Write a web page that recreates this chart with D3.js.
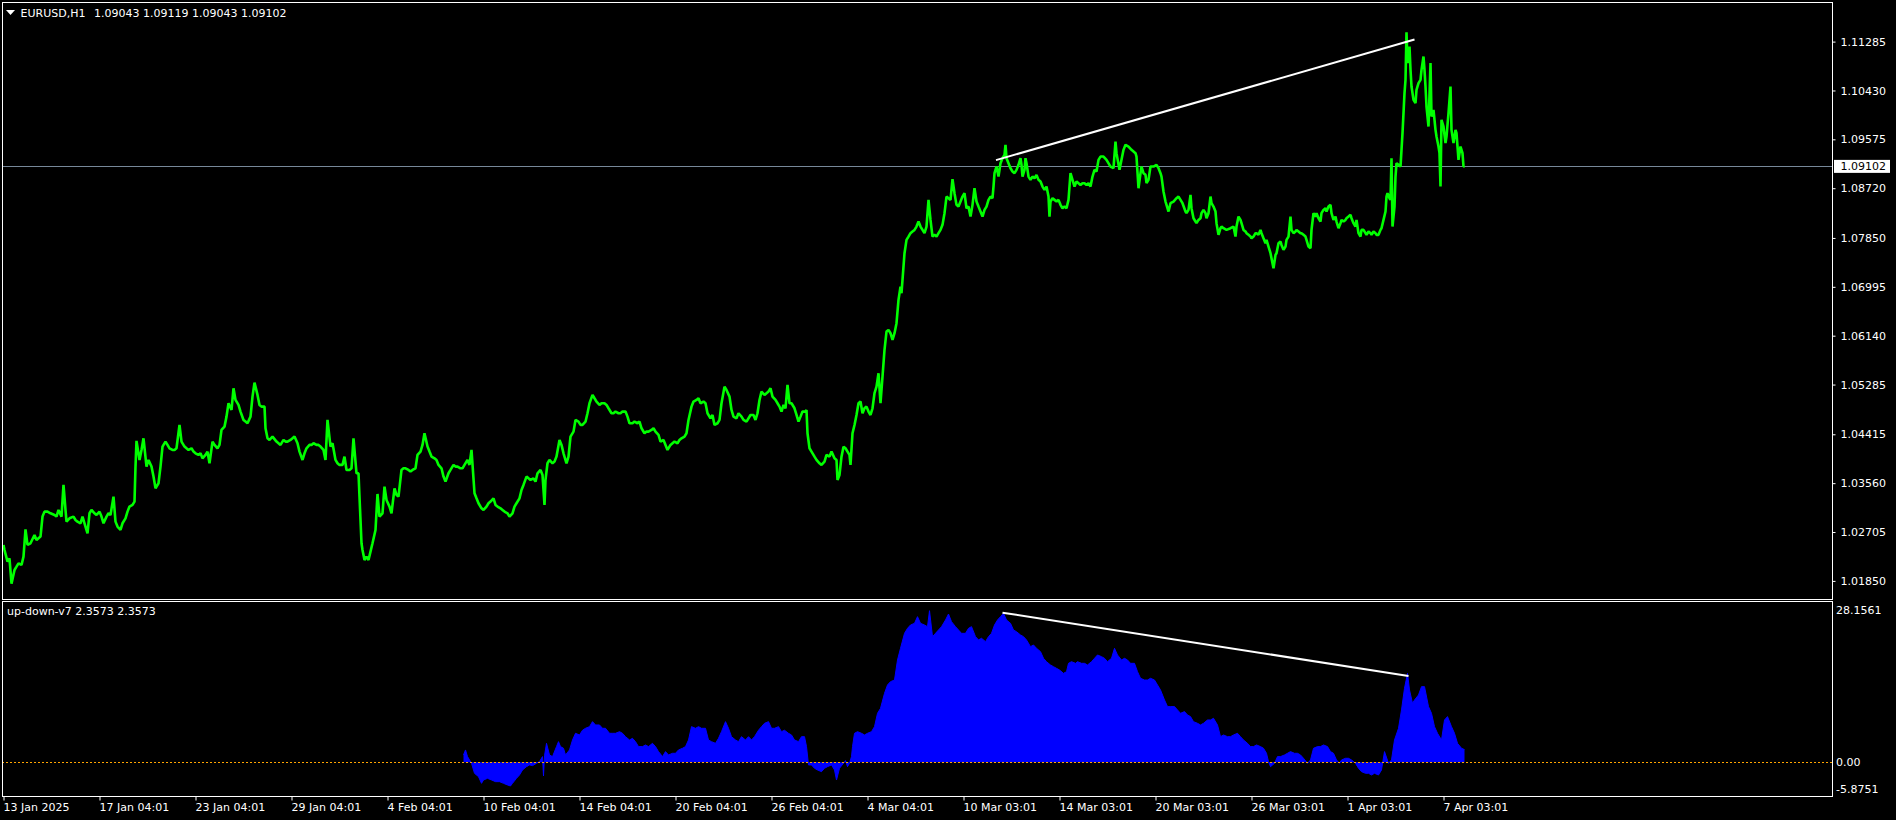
<!DOCTYPE html>
<html><head><meta charset="utf-8">
<script src="https://cdn.jsdelivr.net/npm/d3@7/dist/d3.min.js"></script>
<style>
html,body{margin:0;padding:0;background:#000;overflow:hidden;}
svg{display:block;}
text{font-family:"DejaVu Sans",sans-serif;font-size:11px;}
</style></head><body>
<svg id="chart" width="1896" height="820"></svg>
<script>
// ---------------- DATA ----------------
const symbolTitle = "EURUSD,H1";
const ohlcTitle = "1.09043 1.09119 1.09043 1.09102";
const indicatorTitle = "up-down-v7 2.3573 2.3573";
const lastPrice = 1.09102;

const priceTicks = [1.11285, 1.10430, 1.09575, 1.08720, 1.07850, 1.06995, 1.06140, 1.05285, 1.04415, 1.03560, 1.02705, 1.01850];
const indicatorTicks = [28.1561, 0, -5.8751];
const indicatorTickLabels = ["28.1561", "0.00", "-5.8751"];

const timeTickBars = [0, 96, 192, 288, 384, 480, 576, 672, 768, 864, 960, 1056, 1152, 1248, 1344, 1440];
const timeLabels = ["13 Jan 2025", "17 Jan 04:01", "23 Jan 04:01", "29 Jan 04:01", "4 Feb 04:01", "10 Feb 04:01", "14 Feb 04:01", "20 Feb 04:01", "26 Feb 04:01", "4 Mar 04:01", "10 Mar 03:01", "14 Mar 03:01", "20 Mar 03:01", "26 Mar 03:01", "1 Apr 03:01", "7 Apr 03:01"];

// [bar index, close]
const closeSeries = [
[0,1.02479],[1,1.02391],[4,1.02187],[6,1.02245],[8,1.01800],[11,1.02041],[13,1.02099],[15,1.02158],[18,1.02129],[20,1.02274],[22,1.02750],[24,1.02479],[27,1.02508],[31,1.02654],[33,1.02566],[37,1.02625],[39,1.02975],[41,1.03062],[44,1.03062],[47,1.03033],[51,1.03004],[53,1.02975],[55,1.03091],[58,1.02975],[60,1.03529],[62,1.03091],[63,1.02887],[66,1.02945],[70,1.02975],[72,1.02916],[74,1.02887],[77,1.02858],[79,1.02975],[81,1.02858],[84,1.02683],[86,1.03033],[88,1.03091],[91,1.03033],[93,1.03004],[96,1.03062],[98,1.02975],[100,1.02858],[103,1.02975],[105,1.03033],[107,1.03004],[110,1.03325],[112,1.02887],[114,1.02800],[117,1.02741],[119,1.02858],[122,1.02945],[124,1.03062],[126,1.03150],[129,1.03179],[131,1.03237],[132,1.03850],[133,1.04300],[136,1.03966],[138,1.04141],[140,1.04345],[143,1.03850],[145,1.03966],[148,1.03850],[150,1.03675],[152,1.03470],[155,1.03558],[157,1.03850],[159,1.04200],[162,1.04287],[164,1.04229],[166,1.04170],[169,1.04141],[171,1.04141],[173,1.04170],[176,1.04579],[178,1.04287],[181,1.04200],[183,1.04170],[185,1.04141],[188,1.04170],[190,1.04112],[192,1.04083],[195,1.04054],[197,1.04083],[199,1.03995],[202,1.04054],[204,1.04112],[206,1.03908],[209,1.04287],[211,1.04229],[214,1.04170],[216,1.04229],[218,1.04491],[221,1.04549],[223,1.04724],[225,1.04958],[228,1.04841],[230,1.05220],[232,1.05016],[235,1.04929],[237,1.04812],[240,1.04666],[242,1.04637],[244,1.04608],[247,1.04724],[249,1.05074],[251,1.05319],[254,1.05104],[256,1.04929],[258,1.04899],[261,1.04899],[262,1.04520],[264,1.04345],[266,1.04316],[269,1.04375],[273,1.04287],[275,1.04258],[277,1.04229],[280,1.04316],[282,1.04287],[284,1.04287],[287,1.04316],[289,1.04345],[291,1.04375],[294,1.04258],[296,1.04112],[299,1.03966],[301,1.04083],[303,1.04170],[306,1.04229],[308,1.04229],[310,1.04258],[313,1.04229],[315,1.04229],[317,1.04200],[320,1.04141],[322,1.03966],[324,1.04666],[327,1.04200],[329,1.04258],[332,1.03966],[334,1.03908],[336,1.03879],[339,1.03879],[341,1.04025],[343,1.03791],[346,1.03791],[348,1.03820],[350,1.04345],[353,1.03733],[355,1.03733],[358,1.02508],[359,1.02391],[361,1.02216],[363,1.02274],[365,1.02216],[367,1.02362],[369,1.02508],[372,1.02741],[374,1.03371],[376,1.02975],[379,1.03033],[381,1.03500],[383,1.03266],[386,1.03150],[388,1.03033],[391,1.03470],[393,1.03354],[395,1.03325],[398,1.03791],[400,1.03820],[402,1.03820],[405,1.03791],[407,1.03762],[409,1.03791],[412,1.03820],[414,1.04054],[417,1.04112],[419,1.04229],[421,1.04433],[424,1.04200],[426,1.04112],[428,1.04025],[431,1.03995],[433,1.03966],[435,1.03879],[438,1.03820],[440,1.03675],[442,1.03587],[445,1.03733],[447,1.03791],[450,1.03879],[452,1.03850],[454,1.03850],[457,1.03820],[459,1.03820],[461,1.03879],[464,1.03966],[466,1.03879],[468,1.04141],[471,1.03383],[473,1.03295],[475,1.03208],[478,1.03120],[480,1.03091],[483,1.03150],[485,1.03208],[487,1.03237],[490,1.03295],[492,1.03179],[494,1.03150],[497,1.03120],[499,1.03091],[501,1.03062],[504,1.03033],[506,1.02975],[509,1.03033],[511,1.03150],[513,1.03208],[516,1.03295],[518,1.03441],[520,1.03529],[523,1.03675],[525,1.03645],[527,1.03616],[530,1.03645],[532,1.03587],[534,1.03733],[537,1.03791],[539,1.03704],[541,1.03179],[542,1.03616],[544,1.03908],[546,1.03966],[549,1.03908],[551,1.03937],[553,1.04025],[556,1.04316],[558,1.04229],[560,1.04083],[563,1.03908],[565,1.04025],[567,1.04375],[570,1.04462],[572,1.04666],[575,1.04637],[577,1.04579],[579,1.04579],[582,1.04637],[584,1.04783],[586,1.04958],[589,1.05104],[591,1.05045],[593,1.04987],[596,1.04929],[598,1.04958],[601,1.04958],[603,1.04929],[605,1.04870],[608,1.04783],[610,1.04783],[612,1.04812],[615,1.04783],[617,1.04783],[619,1.04812],[622,1.04812],[624,1.04724],[626,1.04608],[629,1.04608],[631,1.04637],[634,1.04608],[636,1.04637],[638,1.04520],[641,1.04433],[643,1.04462],[645,1.04462],[648,1.04491],[650,1.04520],[652,1.04462],[655,1.04404],[657,1.04287],[660,1.04316],[662,1.04229],[664,1.04141],[667,1.04229],[669,1.04258],[671,1.04287],[674,1.04258],[676,1.04316],[678,1.04345],[681,1.04375],[683,1.04433],[685,1.04666],[688,1.04899],[690,1.04987],[693,1.05016],[695,1.05045],[697,1.04958],[700,1.04987],[702,1.04958],[704,1.04783],[707,1.04695],[709,1.04754],[711,1.04579],[714,1.04608],[716,1.04666],[718,1.04958],[721,1.05249],[723,1.05191],[726,1.05074],[728,1.04841],[730,1.04724],[733,1.04695],[735,1.04783],
[738,1.04724],[740,1.04666],[743,1.04637],[747,1.04753],[750,1.04753],[752,1.04666],[754,1.04783],[756,1.05016],[758,1.05162],[761,1.05104],[763,1.05133],[765,1.05162],[767,1.05220],[769,1.05074],[772,1.05016],[774,1.04958],[776,1.04899],[778,1.04812],[780,1.04928],[782,1.04870],[784,1.05279],[786,1.04958],[788,1.04958],[791,1.04870],[793,1.04753],[795,1.04637],[797,1.04724],[799,1.04812],[802,1.04812],[803,1.04841],[804,1.04433],[806,1.04170],[808,1.04112],[811,1.04024],[813,1.03966],[816,1.03908],[818,1.03879],[821,1.03937],[823,1.04054],[826,1.04024],[828,1.04112],[831,1.03995],[833,1.03966],[834,1.03616],[836,1.03704],[838,1.04024],[840,1.04199],[842,1.04170],[844,1.04112],[846,1.04054],[847,1.03879],[849,1.04433],[851,1.04578],[853,1.04753],[855,1.04958],[857,1.04987],[859,1.04783],[861,1.04870],[863,1.04899],[865,1.04812],[867,1.04753],[869,1.04870],[871,1.05133],[873,1.05249],[875,1.05483],[877,1.04958],[879,1.05424],[881,1.05891],[883,1.06212],[885,1.06241],[887,1.06183],[889,1.06066],[891,1.06183],[893,1.06358],[895,1.06766],[897,1.06999],[898,1.06883],[899,1.07116],[901,1.07583],[902,1.07699],[903,1.07816],[905,1.07874],[907,1.07933],[909,1.07962],[911,1.07991],[913,1.08049],[915,1.08137],[917,1.08049],[919,1.07991],[921,1.07933],[923,1.08049],[925,1.08516],[927,1.08166],[929,1.07874],[931,1.07904],[933,1.07874],[935,1.07933],[937,1.07991],[939,1.08079],[941,1.08283],[943,1.08574],[945,1.08545],[947,1.08516],[949,1.08878],[951,1.08633],[953,1.08429],[955,1.08399],[957,1.08487],[959,1.08574],[961,1.08633],[963,1.08370],[965,1.08399],[967,1.08224],[969,1.08429],[971,1.08720],[973,1.08487],[975,1.08399],[977,1.08312],[979,1.08224],[981,1.08341],[983,1.08399],[985,1.08516],[987,1.08574],[989,1.08545],[990,1.08749],[991,1.08983],[993,1.09099],[995,1.08924],[997,1.09158],[999,1.09245],[1001,1.09304],[1002,1.09478],[1003,1.09245],[1005,1.09158],[1007,1.09070],[1009,1.09012],[1011,1.08983],[1013,1.09041],[1015,1.09129],[1017,1.09245],[1018,1.09129],[1019,1.08924],[1021,1.09041],[1022,1.09245],[1023,1.09158],[1025,1.08924],[1027,1.08866],[1029,1.08924],[1031,1.08895],[1033,1.08953],[1035,1.08866],[1037,1.08837],[1039,1.08749],[1041,1.08691],[1043,1.08749],[1045,1.08574],[1046,1.08224],[1047,1.08487],[1049,1.08545],[1051,1.08516],[1053,1.08487],[1055,1.08516],[1057,1.08429],[1059,1.08370],[1061,1.08399],[1063,1.08370],[1065,1.08516],[1067,1.08983],[1069,1.08866],[1071,1.08749],[1073,1.08837],[1075,1.08808],[1077,1.08778],[1079,1.08808],[1081,1.08808],[1083,1.08778],[1085,1.08808],[1087,1.08749],[1089,1.08924],[1091,1.09041],[1093,1.09012],[1095,1.09216],[1097,1.09274],
[1100,1.09274],[1103,1.09216],[1107,1.09099],[1110,1.09070],[1112,1.09537],[1113,1.09333],[1116,1.09041],[1118,1.09216],[1120,1.09391],[1122,1.09479],[1125,1.09449],[1128,1.09391],[1132,1.09333],[1133,1.09274],[1135,1.08720],[1137,1.08983],[1138,1.09099],[1140,1.08983],[1142,1.08954],[1143,1.08808],[1145,1.08866],[1147,1.09099],[1150,1.09099],[1153,1.09129],[1155,1.09070],[1157,1.08983],[1158,1.08924],[1160,1.08662],[1162,1.08487],[1163,1.08429],[1165,1.08312],[1167,1.08458],[1170,1.08487],[1173,1.08545],[1175,1.08574],[1177,1.08516],[1179,1.08458],[1182,1.08312],[1183,1.08283],[1185,1.08341],[1187,1.08604],[1188,1.08370],[1190,1.08195],[1192,1.08137],[1193,1.08108],[1195,1.08166],[1197,1.08195],[1198,1.08283],[1200,1.08341],[1202,1.08283],[1203,1.08195],[1205,1.08283],[1207,1.08574],[1208,1.08458],[1210,1.08399],[1212,1.08312],[1213,1.08108],[1215,1.07904],[1217,1.08020],[1218,1.08049],[1220,1.08020],[1223,1.07991],[1227,1.08020],[1230,1.08049],[1232,1.07874],[1233,1.08049],[1235,1.08224],[1237,1.08166],[1238,1.08108],[1240,1.07991],[1242,1.07962],[1243,1.07933],[1245,1.07904],[1247,1.07874],[1248,1.07845],[1250,1.07874],[1252,1.07933],[1253,1.07933],[1255,1.07904],[1257,1.07991],[1258,1.07933],[1260,1.07845],[1262,1.07758],[1263,1.07816],[1265,1.07699],[1267,1.07583],[1268,1.07495],[1270,1.07320],[1272,1.07554],[1273,1.07583],[1275,1.07758],[1277,1.07787],[1278,1.07728],[1280,1.07641],[1282,1.07699],[1283,1.07816],[1285,1.07874],[1287,1.08224],[1288,1.07991],[1290,1.07933],[1292,1.07962],[1293,1.07991],[1295,1.07962],[1297,1.07933],[1298,1.07933],[1300,1.07904],[1302,1.07874],[1303,1.07816],[1305,1.07699],[1307,1.07670],[1308,1.07991],[1310,1.08283],[1312,1.08224],[1313,1.08283],[1315,1.08195],[1317,1.08137],[1318,1.08283],[1320,1.08341],[1322,1.08370],[1323,1.08312],[1325,1.08399],[1327,1.08429],[1328,1.08283],[1330,1.08166],[1332,1.08224],[1333,1.08137],[1335,1.08020],[1337,1.08108],[1338,1.08166],[1340,1.08137],[1342,1.08166],[1343,1.08195],[1345,1.08224],[1347,1.08254],[1348,1.08195],[1350,1.08108],[1352,1.08049],[1353,1.08166],[1355,1.07933],[1357,1.07874],[1358,1.07991],[1360,1.07991],[1362,1.07933],[1363,1.07904],[1365,1.07962],[1367,1.07933],[1368,1.07904],[1370,1.07962],[1372,1.07933],[1373,1.07904],[1375,1.07904],[1377,1.07991],[1378,1.08020],[1380,1.08166],[1382,1.08312],[1383,1.08574],[1384,1.08633],[1386,1.08545],[1387,1.08516],[1388,1.09245],[1389,1.08049],[1391,1.08399],[1392,1.08924],[1393,1.09158],[1395,1.09129],[1397,1.09099],[1398,1.09391],[1399,1.09683],[1400,1.10033],[1401,1.10383],[1402,1.10616],[1403,1.11450],[1404,1.10908],[1405,1.11083],[1406,1.11199],[1407,1.10791],[1408,1.10499],[1410,1.10266],[1412,1.10208],[1413,1.10441],[1415,1.10558],[1417,1.10616],[1418,1.10791],[1420,1.11024],[1421,1.10791],[1422,1.10499],[1423,1.10149],[1425,1.09799],[1427,1.10908],[1428,1.09974],[1430,1.10091],[1432,1.09741],[1433,1.09624],[1435,1.09449],[1436,1.09333],[1437,1.08749],[1438,1.09916],[1440,1.09799],[1442,1.09508],[1443,1.09624],[1445,1.10033],[1447,1.10499],[1448,1.09741],[1450,1.09508],[1452,1.09741],[1453,1.09683],[1455,1.09216],[1456,1.09333],[1457,1.09449],[1459,1.09333],[1460,1.09099],[1461,1.09102]
];

// [bar index, up-down-v7 value]
const upDownSeries = [
[460,1.36],[462,2.29],[464,1.05],[468,-0.19],[471,-2.05],[475,-2.67],[478,-3.91],[480,-3.29],[484,-2.98],[488,-3.29],[492,-3.60],[496,-3.60],[500,-3.91],[504,-4.22],[507,-4.40],[509,-3.91],[513,-2.98],[516,-2.36],[519,-1.43],[523,-0.81],[526,-0.50],[529,-0.62],[533,-0.19],[536,0.12],[539,1.05],[540,-2.54],[541,1.20],[543,3.52],[546,1.36],[549,1.05],[553,2.91],[555,3.83],[557,2.91],[560,2.60],[562,1.36],[566,2.29],[569,4.14],[572,5.38],[576,5.07],[579,5.95],[582,6.31],[586,6.62],[589,7.55],[592,6.93],[596,6.93],[599,6.31],[602,6.31],[606,5.38],[609,5.38],[612,5.38],[616,5.69],[619,5.38],[622,4.76],[626,4.14],[629,4.45],[632,3.83],[635,2.91],[639,2.91],[642,3.22],[645,2.91],[649,3.52],[652,2.91],[655,1.98],[659,1.05],[662,1.98],[665,1.36],[669,1.67],[672,1.67],[675,2.29],[679,2.60],[682,2.91],[685,4.14],[688,6.62],[692,6.31],[695,6.62],[698,6.31],[702,6.31],[705,4.14],[708,3.83],[712,3.52],[715,4.45],[718,5.69],[722,7.55],[725,6.31],[728,4.76],[732,4.14],[735,3.83],[738,4.76],[742,4.14],[745,4.76],[748,4.14],[751,4.76],[755,5.95],[758,6.62],[761,7.24],[765,7.55],[768,6.31],[771,6.31],[775,6.62],[778,5.69],[781,5.95],[785,5.38],[788,5.07],[791,4.14],[795,3.83],[798,4.76],[801,4.76],[803,2.91],[805,-0.50],[808,-0.50],[811,-1.12],[814,-1.43],[818,-1.74],[821,-1.12],[824,-0.81],[828,-0.50],[831,-1.43],[833,-3.29],[836,-1.12],[840,-0.19],[842,0.31],[844,-0.81],[846,-0.19],[848,1.05],[849,2.91],[851,5.38],[854,5.69],[858,5.38],[861,5.07],[864,5.38],[868,5.69],[871,6.62],[874,9.09],[877,10.02],[881,12.81],[884,14.36],[887,14.98],[891,15.28],[894,19.00],[897,21.17],[901,23.95],[904,24.88],[907,25.50],[911,25.81],[914,27.05],[917,25.81],[921,25.50],[924,25.19],[926,28.1561],[929,23.34],[932,23.95],[935,24.57],[938,25.19],[942,26.43],[945,27.54],[948,26.12],[952,25.19],[955,24.57],[958,23.95],[962,23.95],[965,24.88],[968,25.19],[972,23.34],[975,22.72],[978,23.03],[982,22.41],[985,23.34],[988,23.95],[991,25.50],[994,26.43],[997,27.05],[1000,27.67],[1003,26.43],[1007,25.81],[1010,24.57],[1013,24.26],[1017,23.65],[1020,23.34],[1023,22.72],[1027,21.48],[1030,21.79],[1033,21.17],[1037,20.55],[1040,19.31],[1043,18.69],[1047,18.07],[1050,17.76],[1053,17.45],[1056,17.14],[1060,16.52],[1063,16.83],[1065,18.38],[1068,18.69],[1072,18.38],[1074,18.69],[1078,18.38],[1081,18.38],[1084,18.07],[1088,18.69],[1091,19.31],[1094,19.93],[1098,19.62],[1101,19.31],[1104,18.69],[1108,19.31],[1111,21.17],[1114,19.93],[1118,19.00],[1121,19.31],[1124,19.00],[1127,18.38],[1131,18.38],[1134,16.83],[1137,15.60],[1141,15.28],[1144,15.28],[1147,15.60],[1151,15.28],[1154,14.36],[1157,13.43],[1161,11.57],[1164,10.34],[1167,10.34],[1171,10.34],[1174,9.72],[1177,9.09],[1181,9.41],[1184,8.79],[1187,8.48],[1190,7.55],[1194,7.24],[1197,6.93],[1200,7.24],[1204,7.86],[1207,7.86],[1210,8.17],[1214,6.93],[1217,4.76],[1220,5.07],[1224,4.76],[1227,4.76],[1230,5.07],[1234,5.38],[1237,4.76],[1240,4.14],[1244,3.52],[1247,2.91],[1250,2.91],[1253,3.22],[1257,2.91],[1260,2.60],[1263,1.67],[1265,0.12],[1267,-0.81],[1271,-0.19],[1274,1.05],[1277,1.05],[1281,1.36],[1284,1.67],[1287,1.98],[1291,1.67],[1294,1.67],[1297,1.36],[1300,0.74],[1304,-0.19],[1307,0.43],[1310,2.60],[1314,2.91],[1317,2.91],[1320,3.22],[1324,2.91],[1327,1.98],[1330,1.67],[1333,0.43],[1336,-0.19],[1338,0.43],[1342,0.74],[1345,0.74],[1348,0.43],[1352,-0.19],[1355,-1.12],[1358,-1.74],[1362,-2.05],[1365,-2.05],[1368,-2.36],[1371,-2.05],[1375,-2.36],[1378,-1.43],[1381,1.98],[1385,-0.19],[1388,0.43],[1391,4.14],[1395,6.31],[1398,9.72],[1401,13.74],[1404,16.52],[1406,13.43],[1409,10.96],[1411,11.57],[1415,12.50],[1418,14.05],[1421,14.05],[1425,10.34],[1428,9.09],[1431,6.62],[1434,5.38],[1438,4.14],[1441,7.86],[1444,8.48],[1448,6.62],[1451,5.38],[1454,3.52],[1458,2.60],[1461,2.3573]
];

// trend lines [bar, value]
const priceTrend = [[992.5, 1.09211], [1411, 1.11321]];
const indicatorTrend = [[999, 27.79], [1405, 16.03]];

// ---------------- LAYOUT ----------------
const svg = d3.select("#chart");
const W = 1896, H = 820;
const L = 2, R = 1832;
const mainTop = 2, mainBottom = 599;
const indTop = 601, indBottom = 796;

svg.append("rect").attr("width", W).attr("height", H).attr("fill", "#000");

const x = d3.scaleLinear().domain([0, 1828]).range([3.5, 1831.5]);
const yP = d3.scaleLinear().domain([1.01850, 1.11285]).range([580.9, 41.6]);
const yI = d3.scaleLinear().domain([-5.8751, 28.1561]).range([793.9, 610.7]);

const defs = svg.append("defs");
defs.append("clipPath").attr("id", "clipMain").append("rect")
  .attr("x", L + 1).attr("y", mainTop + 1).attr("width", R - L - 1).attr("height", mainBottom - mainTop - 1);
defs.append("clipPath").attr("id", "clipInd").append("rect")
  .attr("x", L + 1).attr("y", indTop + 1).attr("width", R - L - 1).attr("height", indBottom - indTop - 1);

// ---- main panel ----
const gMain = svg.append("g").attr("clip-path", "url(#clipMain)");
const bidY = Math.round(yP(lastPrice)) + 0.5;
gMain.append("line").attr("x1", L).attr("x2", R).attr("y1", bidY).attr("y2", bidY)
  .attr("stroke", "#778899").attr("stroke-width", 1);

const priceLine = d3.line().x(d => x(d[0])).y(d => yP(d[1]));
gMain.append("path").datum(closeSeries).attr("d", priceLine)
  .attr("fill", "none").attr("stroke", "#00FF00").attr("stroke-width", 2.6).attr("stroke-linejoin", "bevel");

gMain.append("path").datum(priceTrend).attr("d", priceLine)
  .attr("fill", "none").attr("stroke", "#FFFFFF").attr("stroke-width", 2);

// ---- indicator panel ----
const gInd = svg.append("g").attr("clip-path", "url(#clipInd)");
const area = d3.area().x(d => x(d[0])).y0(yI(0)).y1(d => yI(d[1]));
gInd.append("path").datum(upDownSeries).attr("d", area).attr("fill", "#0000FF");
gInd.append("path").datum(upDownSeries).attr("d", d3.line().x(d => x(d[0])).y(d => yI(d[1])))
  .attr("fill", "none").attr("stroke", "#0000FF").attr("stroke-width", 1);

const zeroY = Math.round(yI(0)) + 0.5;
gInd.append("line").attr("x1", L).attr("x2", R).attr("y1", zeroY).attr("y2", zeroY)
  .attr("stroke", "#FFA500").attr("stroke-width", 1).attr("stroke-dasharray", "2,2");

const indLine = d3.line().x(d => x(d[0])).y(d => yI(d[1]));
gInd.append("path").datum(indicatorTrend).attr("d", indLine)
  .attr("fill", "none").attr("stroke", "#FFFFFF").attr("stroke-width", 2);

// ---- frames ----
svg.append("rect").attr("x", L + 0.5).attr("y", mainTop + 0.5).attr("width", R - L).attr("height", mainBottom - mainTop)
  .attr("fill", "none").attr("stroke", "#FFFFFF").attr("shape-rendering", "crispEdges");
svg.append("rect").attr("x", L + 0.5).attr("y", indTop + 0.5).attr("width", R - L).attr("height", indBottom - indTop)
  .attr("fill", "none").attr("stroke", "#FFFFFF").attr("shape-rendering", "crispEdges");

// ---- price axis ----
const axP = svg.append("g").attr("transform", `translate(${R + 0.5},0)`)
  .call(d3.axisRight(yP).tickValues(priceTicks).tickFormat(d3.format(".5f")).tickSize(3).tickPadding(5));
axP.select(".domain").remove();
axP.selectAll("line").attr("stroke", "#FFFFFF");
axP.selectAll("text").attr("fill", "#FFFFFF").style("font-family", "DejaVu Sans").style("font-size", "11px");

// bid price label
const bidG = svg.append("g");
bidG.append("rect").attr("x", R + 2).attr("y", yP(lastPrice) - 6.5).attr("width", 56).attr("height", 13).attr("fill", "#FFFFFF");
bidG.append("text").attr("x", R + 8.5).attr("y", yP(lastPrice)).attr("dy", "0.32em")
  .attr("fill", "#000").text(d3.format(".5f")(lastPrice));

// ---- indicator axis ----
const axI = svg.append("g").attr("transform", `translate(${R + 0.5},0)`)
  .call(d3.axisRight(yI).tickValues(indicatorTicks).tickFormat((d, i) => indicatorTickLabels[i]).tickSize(0).tickPadding(3.5));
axI.select(".domain").remove();
axI.selectAll("text").attr("fill", "#FFFFFF").style("font-family", "DejaVu Sans").style("font-size", "11px");
axI.selectAll(".tick").attr("transform", d => `translate(0,${Math.min(yI(d), indBottom - 7)})`);

// ---- time axis ----
const axT = svg.append("g").attr("transform", `translate(0,${indBottom + 0.5})`)
  .call(d3.axisBottom(x).tickValues(timeTickBars).tickFormat((d, i) => timeLabels[i]).tickSize(4).tickPadding(3));
axT.select(".domain").remove();
axT.selectAll("line").attr("stroke", "#FFFFFF");
axT.selectAll("text").attr("fill", "#FFFFFF").attr("text-anchor", "start").attr("x", -0.5)
  .style("font-family", "DejaVu Sans").style("font-size", "11px");

// ---- titles ----
svg.append("path").attr("d", "M6,10 L15,10 L10.5,15 Z").attr("fill", "#FFFFFF");
svg.append("text").attr("x", 20.5).attr("y", 17).attr("fill", "#FFFFFF").text(symbolTitle);
svg.append("text").attr("x", 94).attr("y", 17).attr("fill", "#FFFFFF").text(ohlcTitle);
svg.append("text").attr("x", 7).attr("y", 615).attr("fill", "#FFFFFF").text(indicatorTitle);
</script>
</body></html>
